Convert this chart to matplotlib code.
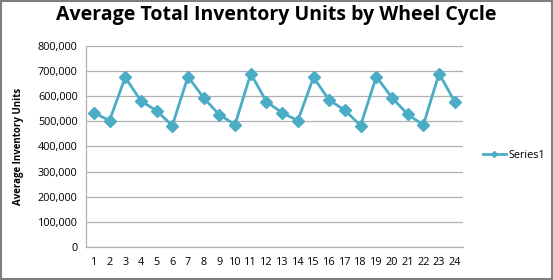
import matplotlib
matplotlib.use("Agg")
import matplotlib.pyplot as plt
from matplotlib.ticker import FuncFormatter, MultipleLocator
from matplotlib.patches import Rectangle

cycles = list(range(1, 25))
inventory = [534000, 503000, 675000, 581000, 542000, 483000, 678000, 593000,
             526000, 487000, 690000, 578000, 534000, 503000, 675000, 584000,
             544000, 483000, 678000, 594000, 528000, 485000, 690000, 578000]
series_name = "Series1"
title = "Average Total Inventory Units by Wheel Cycle"
ylabel = "Average Inventory Units"

plt.rcParams['font.family'] = ['Open Sans', 'DejaVu Sans']

fig = plt.figure(figsize=(5.53, 2.8), dpi=100)
ax = fig.add_axes([0.1555, 0.118, 0.681, 0.718])

color = "#4BACC6"
ax.plot(cycles, inventory, color=color, lw=2, marker="D", ms=6,
        markeredgecolor=color, label=series_name)

ax.set_xlim(0.5, 24.5)
ax.set_ylim(0, 800000)
ax.yaxis.set_major_locator(MultipleLocator(100000))
ax.yaxis.set_major_formatter(FuncFormatter(lambda v, p: f"{int(v):,}"))
ax.set_xticks(cycles)
ax.set_xticklabels([str(c) for c in cycles])
ax.tick_params(axis='both', length=0, labelsize=7.8)
ax.tick_params(axis='x', pad=7)
ax.tick_params(axis='y', pad=6)
ax.grid(axis='y', color="#B0B0B0", lw=0.9)
ax.set_axisbelow(True)
for s in ['top', 'right']:
    ax.spines[s].set_visible(False)
for s in ['left', 'bottom']:
    ax.spines[s].set_color("#B0B0B0")
    ax.spines[s].set_linewidth(0.9)

ax.set_ylabel(ylabel, fontsize=7, fontweight='bold', labelpad=10)
fig.text(0.5, 0.945, title, ha='center', va='center', fontsize=14, fontweight='bold')

leg = fig.legend(loc='center left', bbox_to_anchor=(0.855, 0.445), frameon=False,
                 fontsize=7.8, handlelength=2.2, handletextpad=0.2, markerscale=0.5)

fig.patches.append(Rectangle((0.002, 0.003), 0.996, 0.994, transform=fig.transFigure,
                             fill=False, edgecolor="#7F7F7F", lw=1.5))

fig.savefig("out.png", dpi=100)
